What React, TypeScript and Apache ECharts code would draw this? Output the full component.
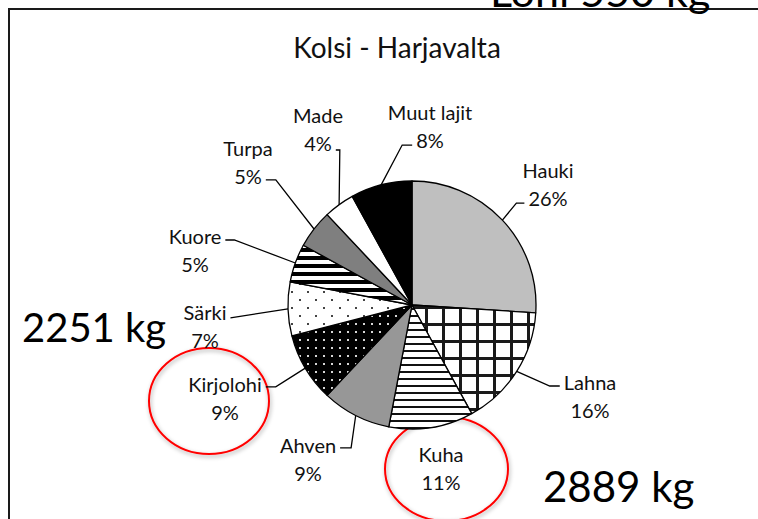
import React, { useEffect, useRef } from "react";
import * as echarts from "echarts";

// ---- data ----
const species = ["Hauki", "Lahna", "Kuha", "Ahven", "Kirjolohi", "Särki", "Kuore", "Turpa", "Made", "Muut lajit"];
const shares = [26, 16, 11, 9, 9, 7, 5, 5, 4, 8];
const chartTitle = "Kolsi - Harjavalta";
const noteLeft = "2251 kg";
const noteRight = "2889 kg";
const noteTop = "Lohi 550 kg";

// ---- styles ----
const FONT = "Lato, 'Open Sans', sans-serif";
const LABEL_SIZE = 20;
const LABEL_LH = 28;
const GAP = 4;

// label block centre, row at which the leader line meets the label, horizontal leader length
const labelPlacement: Record<string, { cx: number; cy: number; row: number; l2: number; line: boolean }> = {
  Hauki: { cx: 548, cy: 183.5, row: 1.2, l2: 8, line: true },
  Lahna: { cx: 590, cy: 395.5, row: 0.16, l2: 10, line: true },
  Kuha: { cx: 441, cy: 468, row: 0, l2: 0, line: false },
  Ahven: { cx: 308, cy: 458.5, row: 0.12, l2: 11, line: true },
  Kirjolohi: { cx: 225, cy: 397.5, row: 0.12, l2: 10, line: true },
  "Särki": { cx: 205, cy: 326, row: 0.21, l2: 0, line: true },
  Kuore: { cx: 195, cy: 249.5, row: 0.16, l2: 9, line: true },
  Turpa: { cx: 248, cy: 162, row: 1.14, l2: 10, line: true },
  Made: { cx: 318, cy: 129, row: 1.25, l2: 4, line: true },
  "Muut lajit": { cx: 430, cy: 126, row: 1.18, l2: 10, line: true },
};

function tile(w: number, h: number, draw: (ctx: CanvasRenderingContext2D) => void) {
  const c = document.createElement("canvas");
  c.width = w;
  c.height = h;
  const ctx = c.getContext("2d")!;
  draw(ctx);
  return { image: c, repeat: "repeat", imageWidth: w, imageHeight: h } as any;
}

function makeFills(): Record<string, any> {
  return {
    Hauki: "#bfbfbf",
    Lahna: tile(17, 17, (ctx) => {
      ctx.fillStyle = "#fff";
      ctx.fillRect(0, 0, 17, 17);
      ctx.fillStyle = "#1a1a1a";
      ctx.fillRect(0, 0, 3, 17);
      ctx.fillRect(0, 0, 17, 3);
    }),
    Kuha: tile(8, 7, (ctx) => {
      ctx.fillStyle = "#fff";
      ctx.fillRect(0, 0, 8, 7);
      ctx.fillStyle = "#111";
      ctx.fillRect(0, 0, 8, 2);
    }),
    Ahven: "#979797",
    Kirjolohi: tile(8, 8, (ctx) => {
      ctx.fillStyle = "#000";
      ctx.fillRect(0, 0, 8, 8);
      ctx.fillStyle = "#d6d6d6";
      ctx.fillRect(3, 3, 2, 2);
    }),
    "Särki": tile(16, 16, (ctx) => {
      ctx.fillStyle = "#fff";
      ctx.fillRect(0, 0, 16, 16);
      ctx.fillStyle = "#444";
      ctx.fillRect(3, 3, 2, 2);
      ctx.fillRect(11, 11, 2, 2);
    }),
    Kuore: tile(8, 8, (ctx) => {
      ctx.fillStyle = "#fff";
      ctx.fillRect(0, 0, 8, 8);
      ctx.fillStyle = "#000";
      ctx.fillRect(0, 0, 8, 4);
    }),
    Turpa: "#7f7f7f",
    Made: "#ffffff",
    "Muut lajit": "#000000",
  };
}

let measureCtx: CanvasRenderingContext2D | null = null;
function measure(text: string) {
  if (!measureCtx) measureCtx = document.createElement("canvas").getContext("2d");
  measureCtx!.font = `${LABEL_SIZE}px ${FONT}`;
  return measureCtx!.measureText(text).width;
}

export default function App() {
  const ref = useRef<HTMLDivElement>(null);

  useEffect(() => {
    if (!ref.current) return;
    const chart = echarts.init(ref.current, undefined, { renderer: "svg" });
    const fills = makeFills();

    const option: any = {
      animation: false,
      backgroundColor: "#ffffff",
      series: [
        {
          type: "pie",
          center: [412, 305],
          radius: 124,
          startAngle: 90,
          clockwise: true,
          avoidLabelOverlap: false,
          silent: true,
          emphasis: { disabled: true },
          itemStyle: { borderColor: "#000", borderWidth: 1.3 },
          data: species.map((name, i) => ({
            name,
            value: shares[i],
            itemStyle: { color: fills[name] },
            labelLine: labelPlacement[name].line ? undefined : { show: false },
          })),
          label: {
            show: true,
            position: "outside",
            fontFamily: FONT,
            fontSize: LABEL_SIZE,
            lineHeight: LABEL_LH,
            color: "#111",
            formatter: (p: any) => `${p.name}\n${Math.round(p.percent)}%`,
          },
          labelLine: {
            show: true,
            length: 20,
            length2: 8,
            smooth: false,
            lineStyle: { color: "#000", width: 1.3 },
          },
          labelLayout: (p: any) => {
            const name = species[p.dataIndex];
            const s = labelPlacement[name];
            const lines = String(p.text).split("\n");
            const top = s.cy - (lines.length * LABEL_LH) / 2;
            const res: any = { x: s.cx, y: s.cy, align: "center", verticalAlign: "middle" };
            const pts = p.labelLinePoints;
            if (s.line && pts && pts.length) {
              const a = pts[0];
              const side = a[0] < s.cx ? -1 : 1;
              const ri = Math.min(lines.length - 1, Math.max(0, Math.round(s.row)));
              const w = measure(lines[ri]);
              const ey = top + LABEL_LH * (s.row + 0.5);
              const ex = s.cx + side * (w / 2 + GAP);
              const bx = ex + side * s.l2;
              res.labelLinePoints = [
                [a[0], a[1]],
                [bx, ey],
                [ex, ey],
              ];
            }
            return res;
          },
        },
      ],
      graphic: [
        { type: "line", shape: { x1: 8, y1: 9, x2: 758, y2: 9 }, style: { stroke: "#1a1a1a", lineWidth: 2 }, silent: true },
        { type: "line", shape: { x1: 9, y1: 8, x2: 9, y2: 519 }, style: { stroke: "#1a1a1a", lineWidth: 2 }, silent: true },
        {
          type: "text",
          x: 397,
          y: 47,
          silent: true,
          style: { text: chartTitle, fontFamily: FONT, fontSize: 28, fill: "#111", align: "center", verticalAlign: "middle" },
        },
        {
          type: "text",
          x: 22,
          y: 327,
          silent: true,
          style: { text: noteLeft, fontFamily: FONT, fontSize: 40, fill: "#000", align: "left", verticalAlign: "middle" },
        },
        {
          type: "text",
          x: 543,
          y: 486,
          silent: true,
          style: { text: noteRight, fontFamily: FONT, fontSize: 42, fill: "#000", align: "left", verticalAlign: "middle" },
        },
        {
          type: "text",
          x: 490,
          y: -10,
          silent: true,
          style: { text: noteTop, fontFamily: FONT, fontSize: 43, fill: "#000", align: "left", verticalAlign: "middle" },
        },
        {
          type: "ellipse",
          shape: { cx: 209, cy: 401, rx: 60, ry: 53 },
          silent: true,
          style: {
            fill: "none",
            stroke: "#ff0000",
            lineWidth: 2,
            shadowBlur: 4,
            shadowColor: "rgba(0,0,0,0.35)",
            shadowOffsetX: 1,
            shadowOffsetY: 2,
          },
        },
        {
          type: "ellipse",
          shape: { cx: 446.5, cy: 469, rx: 61.5, ry: 52 },
          silent: true,
          style: {
            fill: "none",
            stroke: "#ff0000",
            lineWidth: 2,
            shadowBlur: 4,
            shadowColor: "rgba(0,0,0,0.35)",
            shadowOffsetX: 1,
            shadowOffsetY: 2,
          },
        },
      ],
    };

    chart.setOption(option);
    return () => chart.dispose();
  }, []);

  return <div ref={ref} style={{ position: "absolute", left: 0, top: 0, width: 758, height: 519 }} />;
}
